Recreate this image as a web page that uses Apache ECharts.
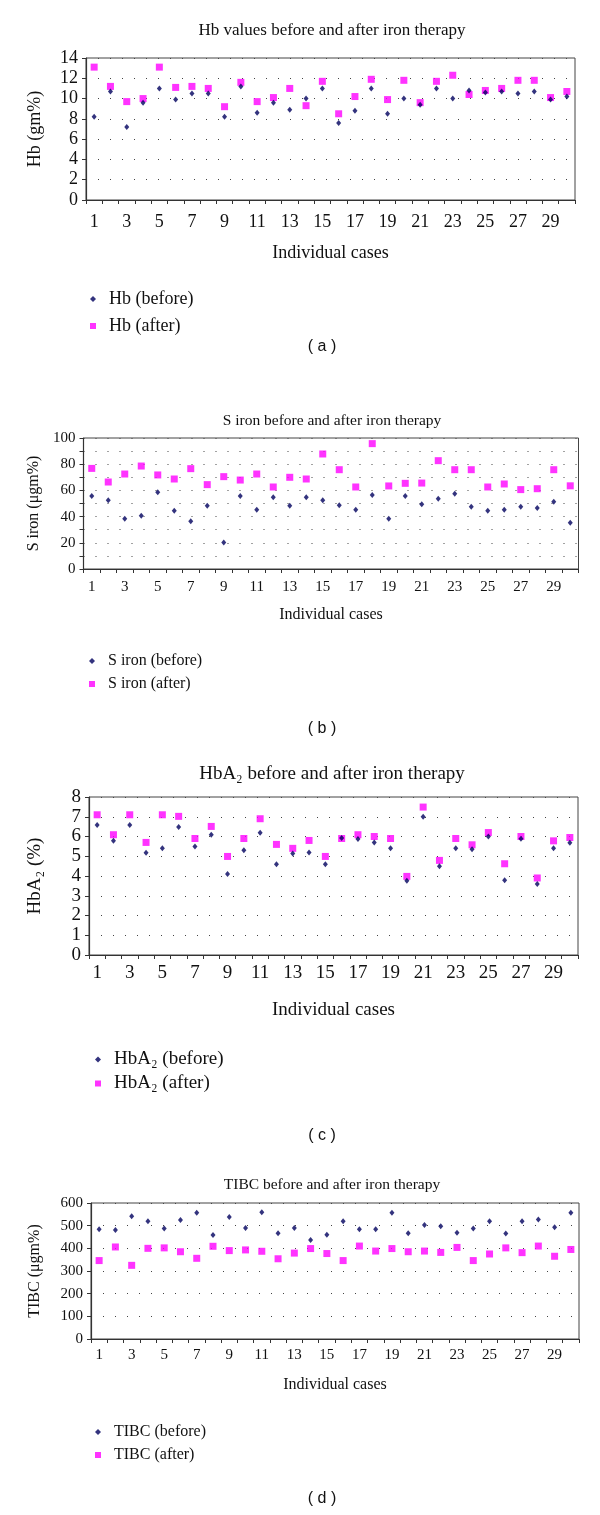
<!DOCTYPE html>
<html><head><meta charset="utf-8">
<script src="https://cdn.jsdelivr.net/npm/echarts@6/dist/echarts.min.js"></script>
<style>html,body{margin:0;padding:0;background:#fff}#c{width:600px;height:1515px}</style>
</head><body><div id="c"></div>
<script>
const cases = Array.from({length:30},(_,i)=>String(i+1));
const hbBefore = [8.2,10.7,7.2,9.6,11.0,9.9,10.5,10.5,8.2,11.2,8.6,9.6,8.9,10.0,11.0,7.6,8.8,11.0,8.5,10.0,9.4,11.0,10.0,10.8,10.6,10.7,10.5,10.7,9.9,10.2];
const hbAfter  = [13.1,11.2,9.7,10.0,13.1,11.1,11.2,11.0,9.2,11.6,9.7,10.1,11.0,9.3,11.7,8.5,10.2,11.9,9.9,11.8,9.6,11.7,12.3,10.4,10.8,11.0,11.8,11.8,10.1,10.7];
const ironBefore = [55.7,52.4,38.4,40.7,58.5,44.5,36.4,48.3,20.3,55.7,45.3,54.7,48.3,54.7,52.4,48.6,45.3,56.5,38.4,55.7,49.4,53.7,57.5,47.6,44.5,45.3,47.6,46.6,51.4,35.3];
const ironAfter  = [76.8,66.4,72.5,78.6,71.8,68.7,76.6,64.4,70.5,67.9,72.5,62.6,70.0,68.7,87.8,75.8,62.6,95.7,63.4,65.4,65.6,82.7,75.8,75.8,62.6,64.9,60.6,61.3,75.8,63.5];
const a2Before = [6.58,5.78,6.58,5.18,5.4,6.48,5.5,6.09,4.1,5.3,6.19,4.59,5.14,5.19,4.59,5.92,5.87,5.7,5.4,3.76,7.0,4.49,5.4,5.35,6.0,3.78,5.89,3.59,5.4,5.68];
const a2After  = [7.1,6.09,7.1,5.7,7.1,7.02,5.9,6.51,4.99,5.9,6.9,5.6,5.4,5.8,4.99,5.9,6.09,6.0,5.9,3.98,7.49,4.79,5.9,5.58,6.2,4.62,6.0,3.9,5.78,5.95];
const tibcBefore = [484,481,541,519,488,525,557,459,538,490,559,466,490,437,460,519,484,484,557,466,503,497,469,487,519,465,519,527,493,557];
const tibcAfter  = [346,406,325,400,402,385,356,409,390,393,387,354,379,399,377,346,410,388,399,385,388,382,404,346,375,402,381,410,365,395];
const yTicksA = [0,14,2], yTicksB=[0,100,20], yTicksC=[0,8,1], yTicksD=[0,600,100];

const SERIF = '"Liberation Serif","DejaVu Serif",serif';
const SANS = '"Liberation Sans",Arial,sans-serif';
const NAVY = '#00005e', MAG = '#ff00ff';

const panels = [
 {grid:{left:86,top:58,width:489,height:142}, yt:yTicksA, yname:'Hb (gm%)', lab:18, xm:13, nameGapY:42, nameGapX:44, xname:18, minor:false},
 {grid:{left:83.5,top:438,width:495,height:131}, yt:yTicksB, yname:'S iron (μgm%)', lab:15, xm:11, nameGapY:42, nameGapX:38, xname:16, minor:true},
 {grid:{left:89,top:797,width:489,height:158}, yt:yTicksC, yname:'HbA₂ (%)', lab:19, xm:9, nameGapY:44, nameGapX:46, xname:19, minor:false},
 {grid:{left:91,top:1203,width:488,height:136}, yt:yTicksD, yname:'TIBC (μgm%)', lab:15, xm:9, nameGapY:48, nameGapX:38, xname:16, minor:false}
];

const grids=[], xAxes=[], yAxes=[];
panels.forEach((p,i)=>{
  grids.push(Object.assign({show:true,borderColor:'#444',borderWidth:1,backgroundColor:'transparent'},p.grid));
  xAxes.push({type:'category',gridIndex:i,data:cases,boundaryGap:true,
    name:'Individual cases',nameLocation:'middle',nameGap:p.nameGapX,
    nameTextStyle:{fontFamily:SERIF,fontSize:p.xname,color:'#111'},
    axisLine:{lineStyle:{color:'#333',width:1.2}},
    axisTick:{show:true,interval:0,alignWithLabel:false,length:4,lineStyle:{color:'#333'}},
    axisLabel:{interval:1,fontFamily:SERIF,fontSize:p.lab,color:'#111',margin:p.xm},
    splitLine:{show:false}});
  yAxes.push({type:'value',gridIndex:i,min:p.yt[0],max:p.yt[1],interval:p.yt[2],
    name:p.yname,nameLocation:'middle',nameGap:p.nameGapY,
    nameTextStyle:{fontFamily:SERIF,fontSize:p.xname,color:'#111'},
    axisLine:{show:true,lineStyle:{color:'#333',width:1.2}},
    axisTick:{show:true,length:4,lineStyle:{color:'#333'}},
    axisLabel:{fontFamily:SERIF,fontSize:p.lab,color:'#111',margin:8},
    minorTick:{show:p.minor,splitNumber:2,length:4,lineStyle:{color:'#333'}},
    minorSplitLine:{show:p.minor,lineStyle:{color:'#444',type:[1,11]}},
    splitLine:{show:true,lineStyle:{color:'#444',type:[1,11]}}});
});

function sc(name,data,i,before){
  return {type:'scatter',name:name,xAxisIndex:i,yAxisIndex:i,data:data,
    symbol:before?'diamond':'rect',symbolSize:before?[5,6]:[7,7],
    itemStyle:{color:before?NAVY:MAG},z:before?3:2};
}
const series=[
 sc('Hb (before)',hbBefore,0,true), sc('Hb (after)',hbAfter,0,false),
 sc('S iron (before)',ironBefore,1,true), sc('S iron (after)',ironAfter,1,false),
 sc('HbA₂ (before)',a2Before,2,true), sc('HbA₂ (after)',a2After,2,false),
 sc('TIBC (before)',tibcBefore,3,true), sc('TIBC (after)',tibcAfter,3,false)
];

function lg(names,left,top,fs,gap){
  return {orient:'vertical',left:left,top:top,itemWidth:6,itemHeight:6,itemGap:gap,
    data:[{name:names[0],icon:'diamond',itemStyle:{color:NAVY}},{name:names[1],icon:'rect',itemStyle:{color:MAG}}],
    textStyle:{fontFamily:SERIF,fontSize:fs,color:'#111',padding:[0,0,0,8]},selectedMode:false};
}
const legends=[
 lg(['Hb (before)','Hb (after)'],85,285,18,9),
 lg(['S iron (before)','S iron (after)'],84,648,16,7),
 lg(['HbA₂ (before)','HbA₂ (after)'],90,1045,19,5),
 lg(['TIBC (before)','TIBC (after)'],90,1419,16,7)
];

const titles=[
 {t:'Hb values before and after iron therapy',y:22,fs:17},
 {t:'S iron before and after iron therapy',y:413,fs:15.5},
 {t:'HbA₂ before and after iron therapy',y:765,fs:19},
 {t:'TIBC before and after iron therapy',y:1177,fs:15.5}
];
const graphics=[];
titles.forEach(o=>graphics.push({type:'text',x:332,y:o.y,style:{text:o.t,font:o.fs+'px '+SERIF,fill:'#111',align:'center'}}));
[['( a )',339],['( b )',721],['( c )',1128],['( d )',1491]].forEach(a=>graphics.push({type:'text',x:322,y:a[1],style:{text:a[0],font:'16px '+SANS,fill:'#111',align:'center'}}));

const chart=echarts.init(document.getElementById('c'),null,{renderer:'canvas'});
chart.setOption({animation:false,backgroundColor:'#fff',grid:grids,xAxis:xAxes,yAxis:yAxes,series:series,legend:legends,graphic:graphics});
</script></body></html>
